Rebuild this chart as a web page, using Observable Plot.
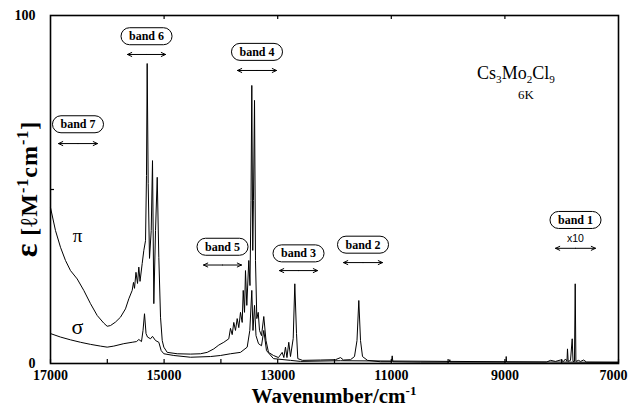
<!DOCTYPE html>
<html>
<head>
<meta charset="utf-8">
<script src="https://cdn.jsdelivr.net/npm/d3@7"></script>
<script src="https://cdn.jsdelivr.net/npm/@observablehq/plot@0.6"></script>
<style>
  html, body { margin: 0; padding: 0; background: #fff; }
  svg { display: block; }
</style>
</head>
<body>
<div id="chart"></div>
<script>
// Cs3Mo2Cl9 single-crystal absorption at 6 K, π and σ polarisations
const piWn = [17000,16912,16824,16736,16648,16530,16414,16296,16178,16062,16002,15944,15856,15768,15680,15621,15562,15539,15521,15495,15468,15445,15424,15386,15357,15327,15310,15298,15280,15257,15227,15204,15181,15151,15121,15093,15063,15033,15005,14945,14769,14535,14359,14241,14125,14037,13949,13861,13831,13801,13773,13743,13713,13685,13655,13625,13607,13584,13567,13544,13509,13488,13470,13456,13439,13427,13408,13391,13368,13343,13320,13285,13245,13206,13162,13074,12986,12921,12892,12863,12837,12805,12775,12727,12699,12669,12646,12563,12246,11982,11894,11841,11718,11648,11604,11572,11542,11507,11419,11190,10996,10984,10973,10486,9975,9970,9965,8980,8977,8972,8267,8197,8109,8021,7968,7933,7907,7898,7886,7845,7815,7801,7775,7762,7750,7704,7669,7614,7562,7000];
const piEps = [44.8,38.2,33.4,29.6,26.7,24.3,21.0,17.2,13.8,11.6,10.7,10.9,11.9,13.3,15.7,18.6,21.0,23.3,21.6,26.2,23.0,27.7,23.6,28.7,32.5,35.3,54.0,86.2,51.7,30.2,38.2,58.3,17.2,38.2,53.5,30.5,13.3,6.6,4.7,3.2,2.8,2.7,2.8,3.2,4.2,5.3,6.1,7.1,10.1,8.3,11.8,9.5,12.9,10.3,14.7,11.8,21.0,14.7,26.7,16.7,29.6,22.4,46.8,79.9,32.5,46.8,75.6,29.6,12.9,14.7,9.5,8.0,13.5,6.6,3.2,2.3,1.7,3.2,1.7,4.7,1.7,6.1,2.0,7.2,22.9,8.6,1.4,0.9,1.0,1.1,1.7,1.0,1.1,2.0,6.6,18.1,6.6,2.0,0.9,0.5,0.5,2.2,0.5,0.4,0.4,1.1,0.4,0.4,2.0,0.4,0.4,0.9,0.6,1.0,0.6,1.3,0.6,4.2,0.6,0.9,7.1,0.6,0.6,22.9,0.6,0.9,0.6,1.0,0.4,0.4];

const sigmaWn = [17000,16824,16648,16472,16296,16120,16002,15886,15710,15562,15486,15445,15398,15371,15345,15318,15292,15239,15204,15151,15093,15051,15005,14829,14535,14183,14007,13831,13655,13537,13491,13456,13435,13408,13382,13338,13285,13245,13197,13074,12775,12598,11894,7000];
const sigmaEps = [8.6,7.6,6.8,6.1,5.5,5.0,4.7,5.0,5.7,6.1,6.3,6.9,6.3,9.5,14.3,8.6,7.6,7.1,7.8,6.6,6.1,3.7,2.8,2.3,1.8,2.0,2.3,2.8,3.2,4.7,9.5,21.0,9.5,16.7,8.0,5.7,5.1,9.5,3.7,1.4,0.9,0.6,0.8,0.3];

// assigned bands: name, wavenumber range, and annotation heights
const bandNames = ["band 7","band 6","band 5","band 4","band 3","band 2","band 1"];
const bandFrom  = [16859,15644,14306,13708,12968,11841,8109];
const bandTo    = [16173,14975,13637,13021,12299,11155,7405];
const arrowEps  = [63.2,88.8,28.3,84.2,26.7,29.0,33.1];
const labelEps  = [68.7,94.0,33.5,89.5,31.6,34.1,41.2];

// axis ticks
const xMinorTicks = [17000,16000,15000,14000,13000,12000,11000,10000,9000,8000,7000];
const xTopTicks   = [15000,13000,11000,9000];
const xTickLabels = [17000,15000,13000,11000,9000];
const xLastLabel  = [7000];
const yTickLabels = [0,100];
const yMidTicks   = [50];

const pi = piWn.map((wn, i) => ({wn, eps: piEps[i]}));
const sigma = sigmaWn.map((wn, i) => ({wn, eps: sigmaEps[i]}));
const bands = bandNames.map((name, i) => ({
  name, from: bandFrom[i], to: bandTo[i], mid: (bandFrom[i] + bandTo[i]) / 2,
  arrowEps: arrowEps[i], labelEps: labelEps[i]
}));
const polLabels = [{t: "π", wn: 16525, eps: 36.8, size: 19}, {t: "σ", wn: 16525, eps: 10.6, size: 22}];

const serif = "Liberation Serif, DejaVu Serif, serif";
const W = 629, H = 407, mL = 50, mR = 11, mT = 15, mB = 44;
const innerW = W - mL - mR, innerH = H - mT - mB;

const tickLabelStyle = {anchor: "bottom", tickSize: 0, tickPadding: 7, tickFormat: d3.format("d"),
  fontSize: 14, fontWeight: "bold", fontFamily: serif, label: null};
const arrowStyle = {y1: "arrowEps", y2: "arrowEps", stroke: "#000", strokeWidth: 1,
  headLength: 7, headAngle: 50, insetStart: 0, insetEnd: 0};

const chart = Plot.plot({
  width: W, height: H,
  marginLeft: mL, marginRight: mR, marginTop: mT, marginBottom: mB,
  style: {fontFamily: serif, background: "#fff", color: "#000", overflow: "visible"},
  x: {domain: [17000, 7000]},
  y: {domain: [0, 100]},
  marks: [
    Plot.tickX(xMinorTicks, {x: d => d, insetTop: innerH - 4, stroke: "#000", strokeWidth: 1.2}),
    Plot.tickX(xTopTicks, {x: d => d, insetBottom: innerH - 4, stroke: "#000", strokeWidth: 1.2}),
    Plot.tickY(yMidTicks, {y: d => d, insetRight: innerW - 4, stroke: "#000", strokeWidth: 1.2}),
    Plot.axisX(xTickLabels, tickLabelStyle),
    Plot.axisX(xLastLabel, {...tickLabelStyle, dx: -5}),
    Plot.axisY(yTickLabels, {anchor: "left", tickSize: 0, tickPadding: 15,
      fontSize: 14, fontWeight: "bold", fontFamily: serif, label: null}),
    Plot.line(sigma, {x: "wn", y: "eps", stroke: "#000", strokeWidth: 1}),
    Plot.line(pi, {x: "wn", y: "eps", stroke: "#000", strokeWidth: 1}),
    // double-headed range arrows, drawn outward from the band centre
    Plot.arrow(bands, {x1: "mid", x2: "from", ...arrowStyle}),
    Plot.arrow(bands, {x1: "mid", x2: "to", ...arrowStyle}),
    Plot.text(bands, {x: "mid", y: "labelEps", text: "name", fontSize: 12, fontWeight: "bold",
      fontFamily: serif, fill: "#000"}),
    Plot.text(["x10"], {x: 7757, y: 35.9, text: d => d, fontSize: 10.5,
      fontFamily: "Liberation Sans, Arial, sans-serif", fill: "#000"}),
    Plot.text(polLabels, {x: "wn", y: "eps", text: "t", fontSize: d => d.size, fontFamily: serif, fill: "#000"}),
    Plot.frame({stroke: "#000", strokeWidth: 1.6})
  ]
});

document.getElementById("chart").appendChild(chart);

const svg = d3.select(chart);
const sx = chart.scale("x"), sy = chart.scale("y");

// rounded boxes around the band names
svg.selectAll("text").filter(function () {
  return /^band \d$/.test(this.textContent);
}).each(function () {
  const bb = this.getBBox();
  const h = 17, w = bb.width + 16;
  const cx = bb.x + bb.width / 2, cy = bb.y + bb.height / 2;
  const r = d3.select(this.parentNode).insert("rect", () => this)
    .attr("x", cx - w / 2)
    .attr("y", cy - h / 2)
    .attr("width", w).attr("height", h)
    .attr("rx", h / 2).attr("ry", h / 2)
    .attr("fill", "#fff").attr("stroke", "#000").attr("stroke-width", 1);
  const tr = this.getAttribute("transform");
  if (tr) r.attr("transform", tr);
});

// text with sub/superscript runs: [string, shift, size] (shift < 0 raises)
function richText(sel, parts, baseSize) {
  let prev = 0;
  parts.forEach(([s, shift, size]) => {
    sel.append("tspan")
      .attr("dy", shift - prev)
      .attr("font-size", size || (shift !== 0 ? baseSize * 0.62 : baseSize))
      .text(s);
    prev = shift;
  });
}

// x-axis title
const xt = svg.append("text")
  .attr("x", mL + innerW / 2).attr("y", 403)
  .attr("text-anchor", "middle")
  .attr("font-family", serif).attr("font-weight", "bold").attr("font-size", 21);
richText(xt, [["Wavenumber/cm", 0], ["-1", -8]], 21);

// y-axis title
const yt = svg.append("text")
  .attr("transform", `translate(37,${mT + innerH / 2}) rotate(-90)`)
  .attr("text-anchor", "middle")
  .attr("font-family", serif).attr("font-weight", "bold").attr("font-size", 24)
  .attr("letter-spacing", 1);
richText(yt, [["ε", 0, 32], [" [ℓM", 0], ["-1", -9, 16], ["cm", 0], ["-1", -9, 16], ["]", 0]], 24);

// compound and temperature
const tt = svg.append("text")
  .attr("x", sx.apply(8796)).attr("y", sy.apply(81.5))
  .attr("text-anchor", "middle")
  .attr("font-family", serif).attr("font-size", 18);
richText(tt, [["Cs", 0], ["3", 4], ["Mo", 0], ["2", 4], ["Cl", 0], ["9", 4]], 18);
svg.append("text")
  .attr("x", sx.apply(8620)).attr("y", sy.apply(76.0))
  .attr("text-anchor", "middle")
  .attr("font-family", serif).attr("font-size", 13)
  .text("6K");
</script>
</body>
</html>
